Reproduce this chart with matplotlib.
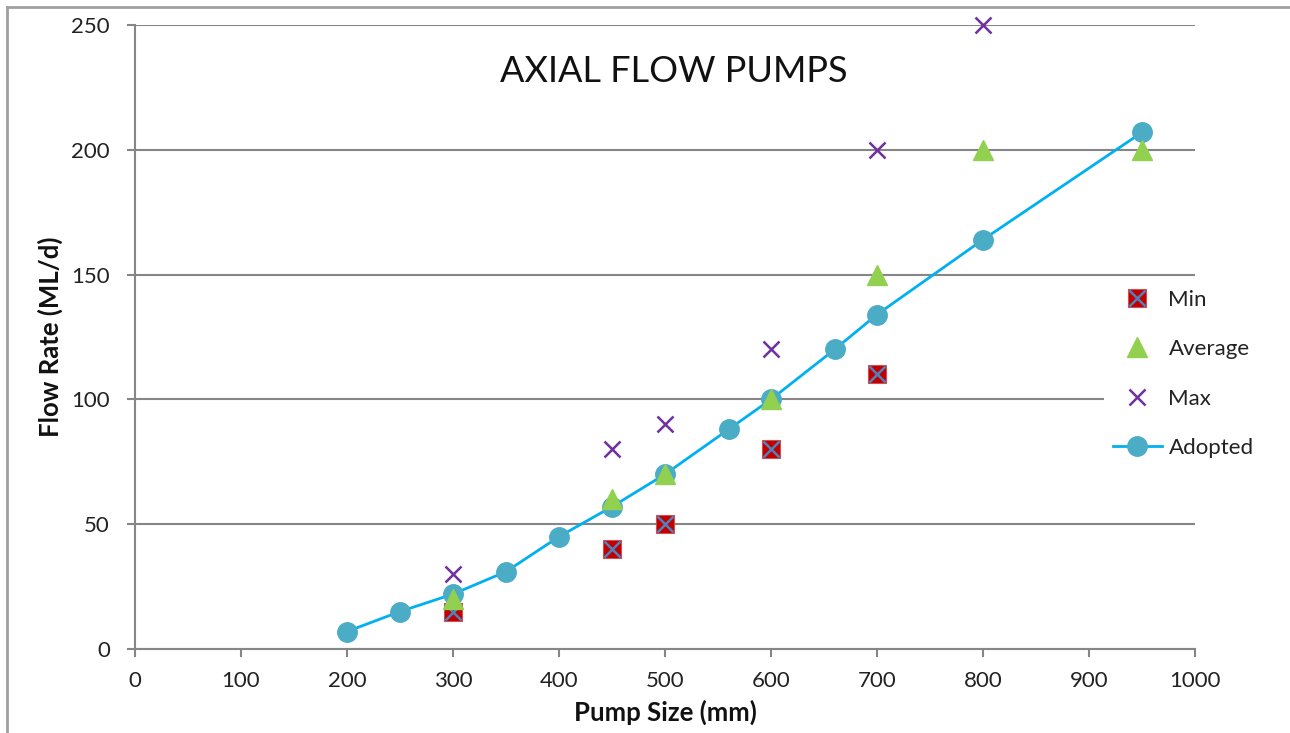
import matplotlib
matplotlib.use("Agg")
import matplotlib.pyplot as plt
from matplotlib.lines import Line2D
from matplotlib.legend_handler import HandlerTuple

# Data
adopted_x = [200, 250, 300, 350, 400, 450, 500, 560, 600, 660, 700, 800, 950]
adopted_y = [7, 15, 22, 31, 45, 57, 70, 88, 100, 120, 134, 164, 207]
min_x = [300, 450, 500, 600, 700]
min_y = [15, 40, 50, 80, 110]
avg_x = [300, 450, 500, 600, 700, 800, 950]
avg_y = [20, 60, 70, 100, 150, 200, 200]
max_x = [300, 450, 500, 600, 700, 800]
max_y = [30, 80, 90, 120, 200, 250]
x_ticks = [0, 100, 200, 300, 400, 500, 600, 700, 800, 900, 1000]
y_ticks = [0, 50, 100, 150, 200, 250]

plt.rcParams['font.family'] = ['Lato', 'DejaVu Sans']

fig = plt.figure(figsize=(12.9, 7.33), dpi=100)
ax = fig.add_axes([135/1290, 1-649/733, (1195-135)/1290, (649-25)/733])

gray = '#868686'
ax.set_xlim(0, 1000)
ax.set_ylim(0, 250)
ax.set_xticks(x_ticks)
ax.set_yticks(y_ticks)
ax.yaxis.grid(True, color=gray, linewidth=1.5, zorder=0)
ax.set_axisbelow(True)
for s in ['top', 'right']:
    ax.spines[s].set_visible(False)
for s in ['left', 'bottom']:
    ax.spines[s].set_color(gray)
    ax.spines[s].set_linewidth(1.5)
ax.tick_params(axis='both', direction='out', color=gray, width=1.5, length=6,
               labelsize=16, labelcolor='#222222')
ax.tick_params(axis='y', pad=12)
ax.tick_params(axis='x', pad=10)

# Adopted
l_adopt, = ax.plot(adopted_x, adopted_y, color='#00B0F0', linewidth=2, marker='o',
                   markersize=14, markerfacecolor='#4BACC6', markeredgecolor='#4BACC6',
                   zorder=3, clip_on=False)
# Min
l_min_sq, = ax.plot(min_x, min_y, linestyle='none', marker='s', markersize=12.5,
                    markerfacecolor='#C00000', markeredgecolor='#D05050', markeredgewidth=0.8, zorder=4)
l_min_x, = ax.plot(min_x, min_y, linestyle='none', marker='x', markersize=11,
                   markeredgecolor='#4F81BD', markeredgewidth=1.8, zorder=4.1)
# Average
l_avg, = ax.plot(avg_x, avg_y, linestyle='none', marker='^', markersize=14,
                 markerfacecolor='#92D050', markeredgecolor='#92D050', zorder=4.2)
# Max
l_max, = ax.plot(max_x, max_y, linestyle='none', marker='x', markersize=12,
                 markeredgecolor='#7030A0', markeredgewidth=1.8, zorder=4.3, clip_on=False)

leg = ax.legend([(l_min_sq, l_min_x), l_avg, l_max, l_adopt],
                ['Min', 'Average', 'Max', 'Adopted'],
                handler_map={tuple: HandlerTuple(ndivide=1, pad=0)},
                loc='upper left', bbox_to_anchor=(1104/1290, 1-281/733),
                bbox_transform=fig.transFigure, frameon=True, fancybox=False,
                edgecolor='none', facecolor='white', framealpha=1,
                fontsize=16, labelspacing=1.32, handlelength=2.2, handletextpad=0.3,
                borderpad=0.4, borderaxespad=0, numpoints=1)
leg.set_zorder(5)
for t in leg.get_texts():
    t.set_color('#222222')

ax.text(0.508, 0.925, 'AXIAL FLOW PUMPS', transform=ax.transAxes, ha='center', va='center',
        fontsize=26, color='#111111')

ax.set_xlabel('Pump Size (mm)', fontsize=18.5, fontweight='bold', color='#111111', labelpad=6)
ax.set_ylabel('Flow Rate (ML/d)', fontsize=18.5, fontweight='bold', color='#111111', labelpad=6)

# chart frame (partially visible)
fig.add_artist(Line2D([7/1290, 7/1290], [0, 1-7/733], color='#A0A0A0', linewidth=2,
                      transform=fig.transFigure))
fig.add_artist(Line2D([7/1290, 1], [1-7/733, 1-7/733], color='#A0A0A0', linewidth=2,
                      transform=fig.transFigure))

fig.savefig('out.png', dpi=100, facecolor='white')
